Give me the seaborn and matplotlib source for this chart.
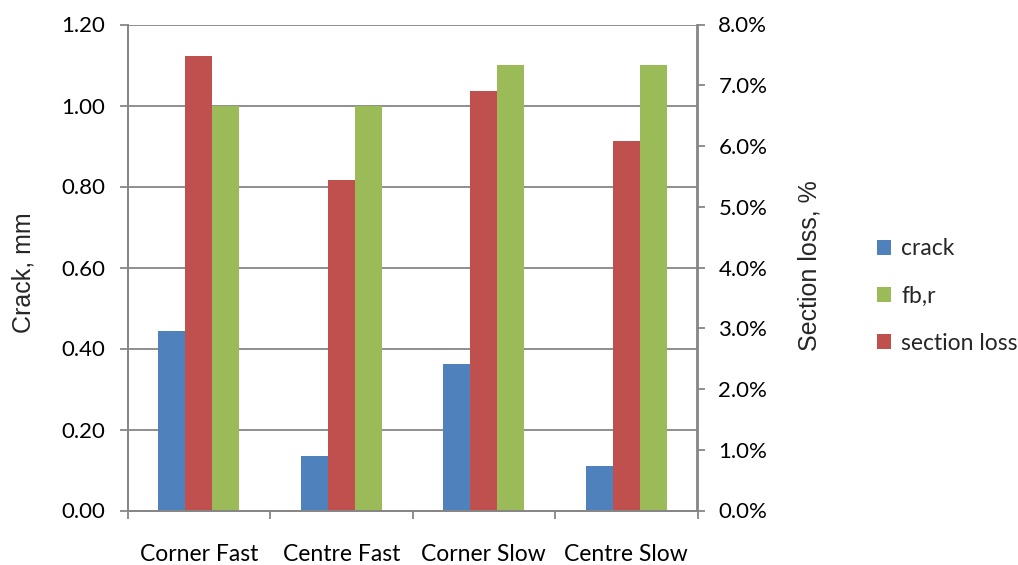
import numpy as np
import pandas as pd
import matplotlib
matplotlib.use("Agg")
import matplotlib.pyplot as plt
import seaborn as sns
from matplotlib.ticker import FixedLocator, FuncFormatter
from matplotlib.patches import Patch

# Data
categories = ["Corner Fast", "Centre Fast", "Corner Slow", "Centre Slow"]
crack_mm = [0.442, 0.135, 0.361, 0.109]
fbr = [1.00, 1.00, 1.10, 1.10]
section_loss_pct = [7.48, 5.44, 6.90, 6.08]

series_order = ["crack", "section loss", "fb,r"]
colors = {"crack": "#4F81BD", "section loss": "#C0504D", "fb,r": "#9BBB59"}

# Left-axis frame (crack and fb,r); section loss goes on the secondary axis
left_df = pd.DataFrame({
    "category": categories * 2,
    "series": ["crack"] * 4 + ["fb,r"] * 4,
    "value": crack_mm + fbr,
})
right_df = pd.DataFrame({
    "category": categories,
    "series": ["section loss"] * 4,
    "value": section_loss_pct,
})

sns.set_theme(style="white")
plt.rcParams["font.family"] = ["Lato", "DejaVu Sans"]

fig = plt.figure(figsize=(10.18, 5.65), dpi=100)
W, H = 1018, 565
x0, x1, y0, y1 = 127.5, 697.5, 24.5, 510.5
ax = fig.add_axes([x0 / W, 1 - y1 / H, (x1 - x0) / W, (y1 - y0) / H])
ax2 = ax.twinx()

grid_c = "#868686"
bar_w = 0.57

sns.barplot(data=left_df, x="category", y="value", hue="series",
            hue_order=series_order, order=categories, palette=colors,
            width=bar_w, dodge=True, errorbar=None, ax=ax, legend=False,
            linewidth=0, saturation=1)
sns.barplot(data=right_df, x="category", y="value", hue="series",
            hue_order=series_order, order=categories, palette=colors,
            width=bar_w, dodge=True, errorbar=None, ax=ax2, legend=False,
            linewidth=0, saturation=1)

ax.set_xlim(-0.5, 3.5)
ax.set_ylim(0, 1.2)
ax2.set_ylim(0, 8)

left_ticks = [0.0, 0.2, 0.4, 0.6, 0.8, 1.0, 1.2]
ax.yaxis.set_major_locator(FixedLocator(left_ticks))
ax.yaxis.set_major_formatter(FuncFormatter(lambda v, p: f"{v:.2f}"))
ax2.yaxis.set_major_locator(FixedLocator(np.arange(0, 8.01, 1.0)))
ax2.yaxis.set_major_formatter(FuncFormatter(lambda v, p: f"{v:.1f}%"))

# Horizontal gridlines on the primary scale, drawn behind bars
ax.set_axisbelow(True)
ax.yaxis.grid(True, color=grid_c, linewidth=1.3)
ax.xaxis.grid(False)
ax2.grid(False)

# Category boundaries carry the x tick marks
ax.set_xticks([-0.5, 0.5, 1.5, 2.5, 3.5], minor=False)
ax.set_xticklabels([])
ax.set_xticks([0, 1, 2, 3], minor=True)
ax.set_xticklabels(categories, minor=True)
ax.tick_params(axis="x", which="major", direction="out", length=6,
               width=1.3, color=grid_c, bottom=True)
ax.tick_params(axis="x", which="minor", length=0, pad=24, labelsize=16.5,
               labelcolor="black")
ax.tick_params(axis="y", direction="out", length=6, width=1.3, color=grid_c,
               left=True, labelsize=16, labelcolor="black", pad=10)
ax2.tick_params(axis="y", direction="out", length=6, width=1.3, color=grid_c,
                right=True, labelsize=16, labelcolor="black", pad=9)

for a in (ax, ax2):
    a.spines["top"].set_visible(False)
    for side in ("left", "right", "bottom"):
        a.spines[side].set_color(grid_c)
        a.spines[side].set_linewidth(1.3)

ax.set_xlabel("")
ax.set_ylabel("Crack, mm", fontsize=18, family=["Liberation Sans"])
ax2.set_ylabel("Section loss, %", fontsize=18, family=["Liberation Sans"])
ax.yaxis.set_label_coords(-0.162, 0.490)
ax2.yaxis.set_label_coords(1.1746, 0.503)

# Legend on the right of the plot area
handles = [Patch(facecolor=colors[s], edgecolor="none") for s in
           ["crack", "fb,r", "section loss"]]
fig.legend(handles, ["crack", "fb,r", "section loss"], loc="center left",
           bbox_to_anchor=(856 / W, 1 - 296 / H), frameon=False, fontsize=16.5,
           handlelength=0.62, handleheight=0.62, handletextpad=0.45,
           labelspacing=1.15)

fig.savefig("out.png", dpi=100)
